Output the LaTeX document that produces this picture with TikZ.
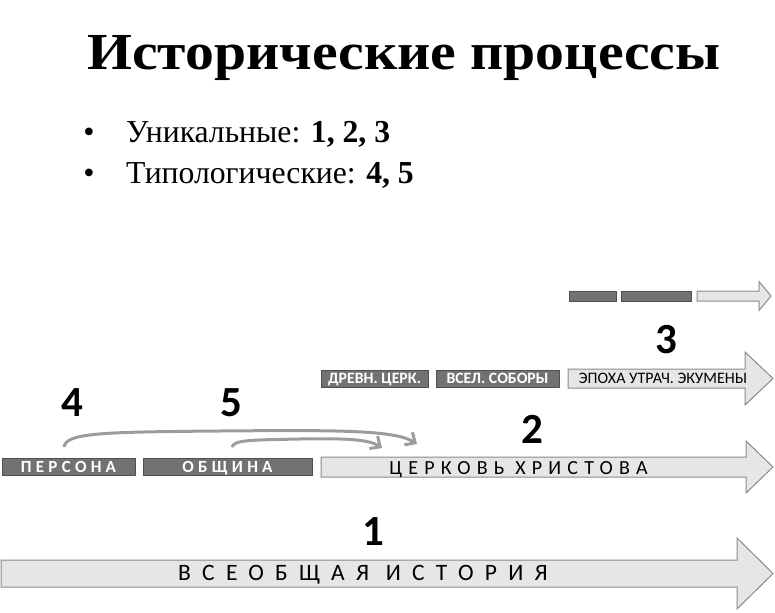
\documentclass[tikz,border=0pt]{standalone}
\usepackage{fontspec}
\setmainfont{Liberation Serif}
\newfontfamily\titlefont[FakeStretch=1.11]{Liberation Serif Bold}
\newfontfamily\listfont[FakeStretch=0.99]{Liberation Serif}
\newfontfamily\labelfont{Carlito}
\newfontfamily\spacedfont[LetterSpace=25]{Carlito}
\newfontfamily\churchfont[LetterSpace=31]{Carlito}
\newfontfamily\widefont[LetterSpace=48]{Carlito}
\usepackage{tikz}
\usetikzlibrary{arrows.meta, positioning}
\definecolor{barfill}{HTML}{727272}
\definecolor{barline}{HTML}{505050}
\definecolor{arrowfill}{HTML}{E6E6E6}
\definecolor{arrowline}{HTML}{8A8A8A}
\definecolor{linkgray}{HTML}{9C9C9C}

% name, left, head start, tip, middle, half shaft, half head
\newcommand{\timearrow}[7]{%
  \draw[fill=arrowfill, draw=arrowline, line width=1pt]
    (#2,#5-#6) -- (#3,#5-#6) -- (#3,#5-#7) -- (#4,#5) -- (#3,#5+#7)
    -- (#3,#5+#6) -- (#2,#5+#6) -- cycle;
  \coordinate (#1) at (#2,#5);}

\begin{document}
\begin{tikzpicture}[x=1pt, y=-1pt,
    bar/.style={
        draw=barline,
        fill=barfill,
        text=white,
        inner sep=0pt,
        line width=0.8pt,
        text depth=0pt,
        text height=10pt,
        font=\labelfont\bfseries\fontsize{15.8}{15.8}\selectfont},
    num/.style={
        anchor=base,
        inner sep=0pt,
        font=\labelfont\bfseries\fontsize{43}{43}\selectfont},
    link/.style={
        draw=linkgray,
        line width=3pt,
        -{Straight Barb[length=8pt, width=15pt]}}]
    \useasboundingbox (0,0) rectangle (775,612);
    % title and list
    \node[anchor=base west, inner sep=0pt, font=\titlefont\fontsize{52}{52}\selectfont] (title) at (87,70) {Исторические процессы};
    \node[anchor=base west, inner sep=0pt, font=\listfont\fontsize{32}{32}\selectfont] (uniq) at (126,143) {Уникальные: \textbf{1, 2, 3}};
    \node[anchor=base west, inner sep=0pt, font=\listfont\fontsize{32}{32}\selectfont] (typo) at (126,184) {Типологические: \textbf{4, 5}};
    \node[anchor=base, inner sep=0pt, font=\fontsize{32}{32}\selectfont] (dot1) at (89,143) {•};
    \node[anchor=base, inner sep=0pt, font=\fontsize{32}{32}\selectfont] (dot2) at (89,184) {•};
    % arrows
    \timearrow{top}{697}{759}{771}{296}{5}{14.5}
    \timearrow{epoch}{568}{745}{773}{378.5}{9.5}{26.5}
    \timearrow{church}{321}{746}{773}{467}{10}{26}
    \timearrow{world}{1}{737}{773}{573.5}{13.5}{35.5}
    % bars
    \node[bar, minimum width=47, minimum height=10] (top1) at (592.5,296) {};
    \node[bar, minimum width=70, minimum height=10] (top2) at (656,296) {};
    \node[bar, minimum width=107, minimum height=17] (ancient) at (374.5,378.5) {ДРЕВН. ЦЕРК.};
    \node[bar, minimum width=123, minimum height=17] (councils) at (497.5,378.5) {ВСЕЛ. СОБОРЫ};
    \node[bar, minimum width=133, minimum height=17, text height=11pt, font=\spacedfont\bfseries\fontsize{17}{17}\selectfont] (persona) at (68.5,466.5) {ПЕРСОНА};
    \node[bar, minimum width=169, minimum height=17, text height=11pt, font=\spacedfont\bfseries\fontsize{17}{17}\selectfont] (community) at (227.5,466.5) {ОБЩИНА};
    % labels
    \begin{scope}[every node/.style={inner sep=0pt, anchor=base}]
        \node[font=\labelfont\fontsize{16}{16}\selectfont] (epochtxt) at (663,383.5) {ЭПОХА УТРАЧ. ЭКУМЕНЫ};
        \node[font=\churchfont\fontsize{20}{20}\selectfont] (churchtxt) at (518.5,474) {ЦЕРКОВЬ ХРИСТОВА};
        \node[font=\widefont\fontsize{23.5}{23.5}\selectfont] (worldtxt) at (363,580) {ВСЕОБЩАЯ ИСТОРИЯ};
    \end{scope}
    \node[num] (n1) at (373,545) {1};
    \node[num] (n2) at (532,443) {2};
    \node[num] (n3) at (666,353) {3};
    \node[num] (n4) at (72,416) {4};
    \node[num] (n5) at (231,416) {5};
    % links
    \coordinate (s4) at (64,447);
    \coordinate (e4) at (417,444);
    \coordinate (s5) at (232,447);
    \coordinate (e5) at (382,448);
    \draw[link] (s4) .. controls (66,433) and (100,432) .. (220,431) .. controls (340,430) and (395,430) .. (e4);
    \draw[link] (s5) .. controls (234,440) and (250,440) .. (300,439) .. controls (350,438) and (370,440) .. (e5);
\end{tikzpicture}
\end{document}
